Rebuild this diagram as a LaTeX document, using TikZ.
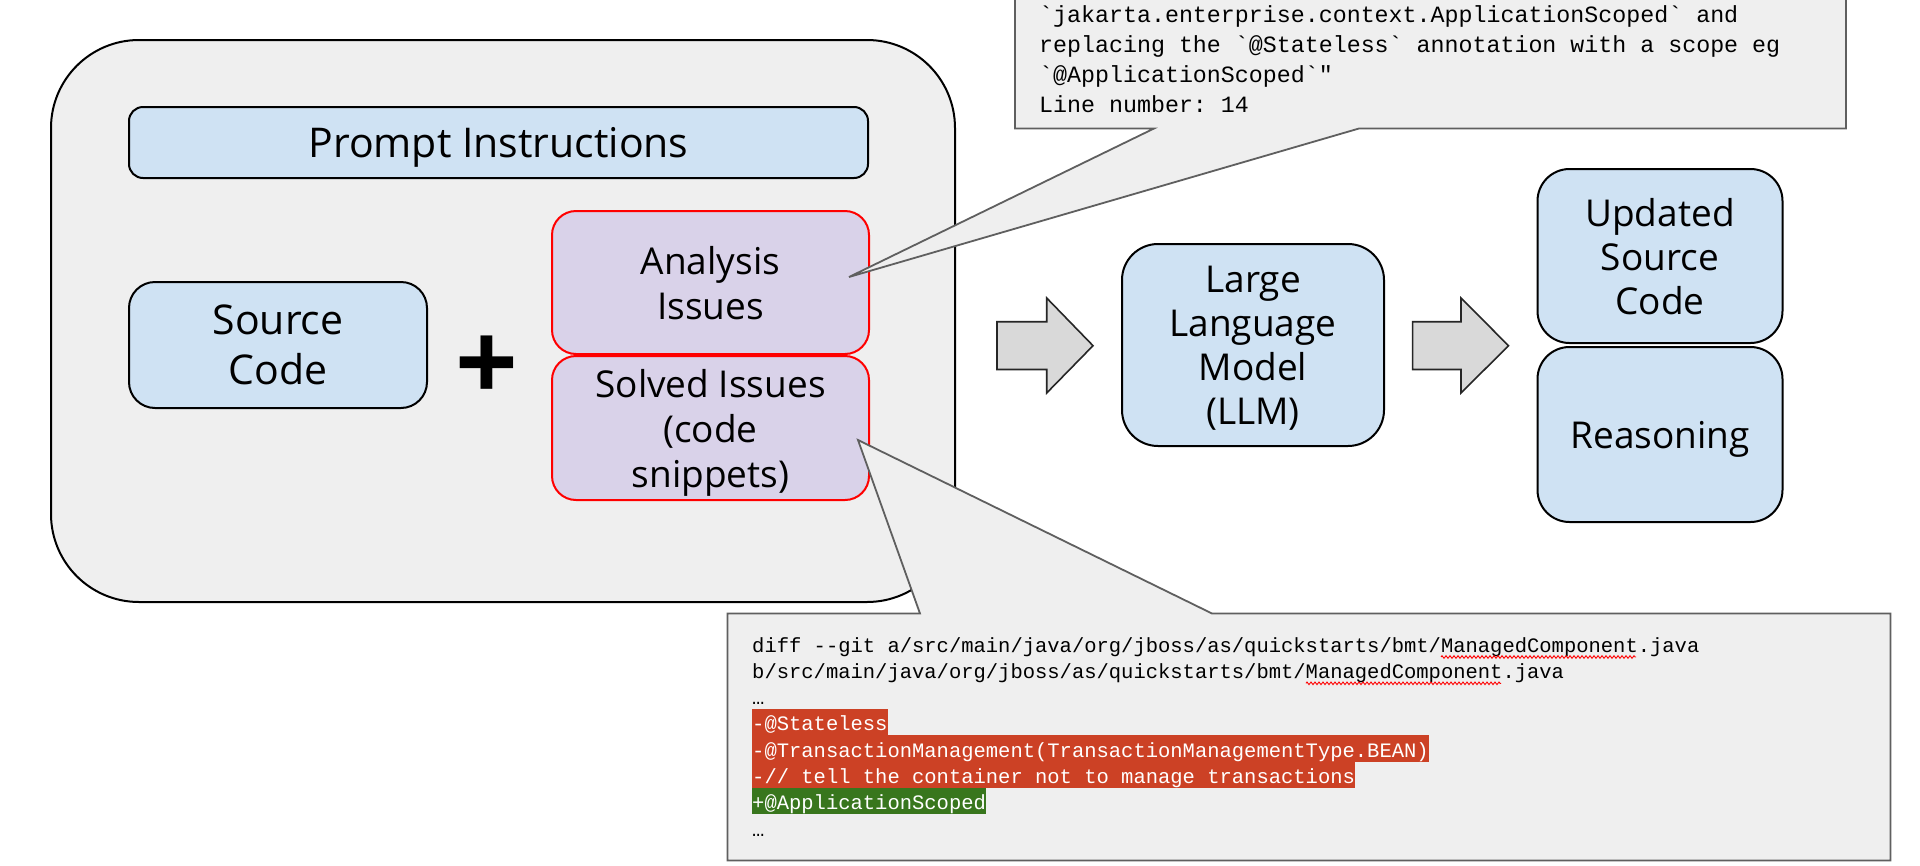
\documentclass[tikz,border=0pt]{standalone}
\usepackage{fontspec}
\setmainfont{Open Sans}
\setmonofont{Liberation Mono}
\usetikzlibrary{decorations.pathmorphing}
\definecolor{outerfill}{HTML}{EFEFEF}
\definecolor{boxblue}{HTML}{CFE2F3}
\definecolor{issuepurple}{HTML}{D9D2E9}
\definecolor{issuered}{HTML}{FF0000}
\definecolor{arrowgray}{HTML}{D9D9D9}
\definecolor{calloutgray}{HTML}{5F5F5F}
\definecolor{diffred}{HTML}{CC4125}
\definecolor{diffgreen}{HTML}{38761D}
\tikzset{
  box/.style={draw=black, line width=2pt, inner sep=0pt, align=center, text depth=0pt},
  bluebox/.style={box, fill=boxblue},
  issuebox/.style={box, draw=issuered, fill=issuepurple, rounded corners=24pt,
    minimum width=317pt, font=\fontsize{37}{45}\selectfont},
  blockarrow/.style={draw=black!85, line width=1.6pt, fill=arrowgray, line join=miter},
  callout/.style={draw=calloutgray, line width=1.8pt, fill=outerfill, line join=miter},
  codeline/.style={anchor=base west, inner sep=0pt, font=\ttfamily\fontsize{20.5}{26.3}\selectfont},
  topline/.style={anchor=base west, inner sep=0pt, font=\ttfamily\fontsize{23.3}{30}\selectfont},
  hlred/.style={codeline, fill=diffred, text=white, text height=22pt, text depth=4.3pt},
  hlgreen/.style={codeline, fill=diffgreen, text=white, text height=22pt, text depth=4.3pt},
  spell/.style={draw=red, line width=0.9pt, decorate,
    decoration={zigzag, segment length=4pt, amplitude=1.3pt}},
}
\begin{document}
\begin{tikzpicture}[x=1pt,y=-1pt]
\useasboundingbox (0,0) rectangle (1920,865);
\fill[white] (0,0) rectangle (1920,865);

% outer group
\node[box, fill=outerfill, rounded corners=88pt, minimum width=904pt, minimum height=562pt] (group) at (503,321) {};

% left contents
\node[bluebox, rounded corners=14pt, minimum width=739pt, minimum height=71pt,
  font=\fontsize{41}{50}\selectfont] (prompt) at (498.5,142.5) {Prompt Instructions};
\node[bluebox, rounded corners=26pt, minimum width=298pt, minimum height=126pt,
  font=\fontsize{41}{50}\selectfont] (source) at (278,345) {Source\\Code};
\node[inner sep=0pt, font=\fontsize{110}{110}\selectfont\bfseries] (plus) at (487,369) {+};
\node[issuebox, minimum height=143pt] (analysis) at (710.5,282.5) {Analysis\\Issues};
\node[issuebox, minimum height=144pt] (solved) at (710.5,428) {Solved Issues\\(code\\snippets)};

% block arrows
\draw[blockarrow] (997,321.7) -- (1046.7,321.7) -- (1046.7,298) -- (1093,345.7)
  -- (1046.7,393) -- (1046.7,369.5) -- (997,369.5) -- cycle;
\draw[blockarrow] (1412.6,321.7) -- (1461,321.7) -- (1461,298) -- (1508.5,345.7)
  -- (1461,393) -- (1461,369.5) -- (1412.6,369.5) -- cycle;

% LLM and outputs
\node[bluebox, rounded corners=36pt, minimum width=262pt, minimum height=202pt,
  font=\fontsize{37}{44}\selectfont] (llm) at (1253,345) {Large\\Language\\Model\\(LLM)};
\node[bluebox, rounded corners=32pt, minimum width=245pt, minimum height=174pt,
  font=\fontsize{37}{44}\selectfont] (updated) at (1660,256) {Updated\\Source\\Code};
\node[bluebox, rounded corners=32pt, minimum width=245pt, minimum height=175pt,
  font=\fontsize{37}{44}\selectfont] (reasoning) at (1660,434.5) {Reasoning};

% top callout
\coordinate (tipA) at (849,277);
\coordinate (baseA1) at (1154,128.5);
\coordinate (baseA2) at (1359,128.5);
\draw[callout] (1015,-10) -- (1015,128.5) -- (baseA1) -- (tipA) -- (baseA2)
  -- (1846,128.5) -- (1846,-10);
\node[topline] (t1) at (1039,22) {`jakarta.enterprise.context.ApplicationScoped` and};
\node[topline] (t2) at (1039,52) {replacing the `@Stateless` annotation with a scope eg};
\node[topline] (t3) at (1039,82) {`@ApplicationScoped`"};
\node[topline] (t4) at (1039,112) {Line number: 14};

% bottom callout
\coordinate (tipS) at (858,440);
\coordinate (baseS1) at (920,613.5);
\coordinate (baseS2) at (1212,613.5);
\draw[callout] (727.5,613.5) -- (baseS1) -- (tipS) -- (baseS2) -- (1890.5,613.5)
  -- (1890.5,860.5) -- (727.5,860.5) -- cycle;
\node[codeline] (c1) at (752,652) {diff --git a/src/main/java/org/jboss/as/quickstarts/bmt/ManagedComponent.java};
\node[codeline] (c2) at (752,678.3) {b/src/main/java/org/jboss/as/quickstarts/bmt/ManagedComponent.java};
\node[codeline] (c3) at (752,704.6) {…};
\node[hlred] (c4) at (752,730.9) {-@Stateless};
\node[hlred] (c5) at (752,757.2) {-@TransactionManagement(TransactionManagementType.BEAN)};
\node[hlred] (c6) at (752,783.5) {-// tell the container not to manage transactions};
\node[hlgreen] (c7) at (752,809.8) {+@ApplicationScoped};
\node[codeline] (c8) at (752,836.1) {…};
\draw[spell] (1441,657) -- (1636,657);
\draw[spell] (1306,683.3) -- (1501,683.3);
\end{tikzpicture}
\end{document}
